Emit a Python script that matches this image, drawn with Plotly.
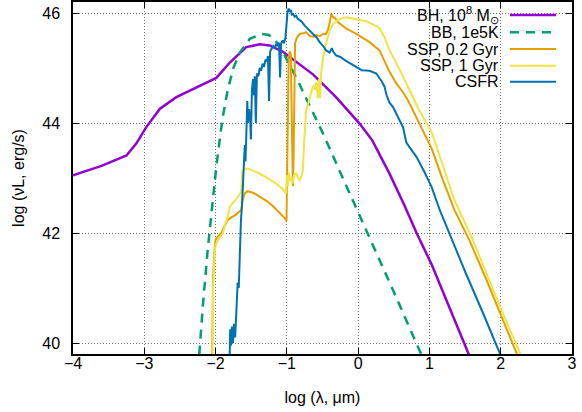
import plotly.graph_objects as go

# ---------------- data ----------------
bh_x = [-4.0, -3.6, -3.25, -3.11, -2.97, -2.78, -2.55, -2.22, -1.99, -1.80, -1.57, -1.38,
        -1.24, -1.06, -0.87, -0.63, -0.31, 0.02, 0.20, 0.44, 0.65, 0.82, 1.03, 1.30, 1.55, 1.62]
bh_y = [43.05, 43.22, 43.41, 43.63, 43.93, 44.26, 44.47, 44.68, 44.82, 45.10, 45.38, 45.43,
        45.41, 45.30, 45.11, 44.88, 44.47, 43.99, 43.68, 43.08, 42.50, 42.00, 41.43, 40.60, 39.80, 39.55]

bb_x = [-2.245, -2.22, -2.18, -2.11, -2.04, -1.99, -1.94, -1.90, -1.83, -1.75, -1.66, -1.52,
        -1.36, -1.25, -1.15, -1.05, -0.96, -0.85, -0.73, -0.60, -0.50, -0.25, 0.0, 0.5, 0.9, 0.95]
bb_y = [39.5, 39.95, 40.65, 41.7, 42.62, 43.2, 43.72, 44.1, 44.6, 45.0, 45.28, 45.53,
        45.62, 45.6, 45.48, 45.28, 45.05, 44.78, 44.45, 44.1, 43.83, 43.1, 42.38, 40.93, 39.75, 39.6]

ssp02_x = [-2.05, -2.045, -2.035, -2.02, -2.0, -1.97, -1.92, -1.83, -1.72, -1.64, -1.62, -1.59,
           -1.55, -1.47, -1.38, -1.28, -1.19, -1.10, -1.03, -1.005, -0.995, -0.985, -0.975, -0.96,
           -0.945, -0.93, -0.915, -0.905, -0.895, -0.885, -0.86, -0.82, -0.77, -0.73, -0.68, -0.63,
           -0.58, -0.54, -0.49, -0.45, -0.42, -0.40, -0.375, -0.35, -0.33, -0.28, -0.17, -0.025,
           0.16, 0.30, 0.37, 0.44, 0.54, 0.63, 0.70, 0.79, 1.03, 1.19, 1.35, 1.56, 1.80, 2.03, 2.22, 2.26]
ssp02_y = [39.6, 41.0, 41.2, 41.6, 41.88, 41.93, 42.0, 42.24, 42.33, 42.42, 42.6, 42.72,
           42.76, 42.73, 42.66, 42.58, 42.48, 42.37, 42.27, 42.22, 43.6, 44.8, 45.2, 45.3,
           45.25, 44.0, 42.85, 43.4, 44.8, 45.45, 45.55, 45.62, 45.63, 45.65, 45.58, 45.57,
           45.6, 45.58, 45.62, 45.62, 45.7, 45.85, 45.98, 45.92, 45.92, 45.83, 45.72, 45.62,
           45.47, 45.32, 45.11, 44.93, 44.71, 44.56, 44.41, 44.17, 43.54, 42.96, 42.42, 41.87, 41.15, 40.42, 39.82, 39.7]

ssp1_x = [-2.045, -2.035, -2.01, -1.99, -1.95, -1.90, -1.83, -1.80, -1.72, -1.64, -1.625, -1.60,
          -1.55, -1.45, -1.34, -1.25, -1.15, -1.06, -1.01, -1.0, -0.985, -0.97, -0.955, -0.94,
          -0.92, -0.90, -0.87, -0.84, -0.82, -0.80, -0.775, -0.76, -0.75, -0.73, -0.71, -0.68,
          -0.66, -0.63, -0.605, -0.585, -0.565, -0.55, -0.535, -0.52, -0.49, -0.45, -0.42, -0.40,
          -0.35, -0.28, -0.17, -0.025, 0.115, 0.255, 0.30, 0.37, 0.44, 0.54, 0.63, 0.72, 0.85,
          1.03, 1.19, 1.35, 1.61, 2.03, 2.27, 2.31]
ssp1_y = [39.6, 41.0, 41.69, 41.81, 41.9, 41.99, 42.3, 42.48, 42.6, 42.75, 43.1, 43.16,
          43.17, 43.12, 43.05, 42.98, 42.9, 42.8, 42.72, 43.05, 42.85, 43.1, 42.95, 43.0,
          42.9, 43.05, 43.08, 43.0, 42.96, 43.0, 43.15, 43.6, 43.9, 44.23, 44.3, 44.47,
          44.55, 44.68, 44.6, 44.75, 44.45, 44.8, 44.45, 44.9, 45.2, 45.44, 45.6, 45.68,
          45.8, 45.88, 45.92, 45.89, 45.85, 45.76, 45.72, 45.56, 45.32, 45.08, 44.83, 44.59, 44.25,
          43.84, 43.2, 42.6, 41.87, 40.54, 39.82, 39.7]

csfr_x = [-1.805, -1.795, -1.785, -1.77, -1.755, -1.74, -1.725, -1.71, -1.69, -1.675, -1.66, -1.645,
          -1.63, -1.62, -1.605, -1.59, -1.58, -1.57, -1.555, -1.545, -1.53, -1.515, -1.505, -1.49,
          -1.475, -1.46, -1.45, -1.435, -1.42, -1.40, -1.38, -1.36, -1.34, -1.32, -1.30, -1.28,
          -1.265, -1.25, -1.235, -1.215, -1.19, -1.17, -1.15, -1.13, -1.11, -1.095, -1.08, -1.06,
          -1.04, -1.02, -1.005, -0.99, -0.975, -0.96, -0.945, -0.93, -0.91, -0.89, -0.87, -0.85,
          -0.82, -0.79, -0.75, -0.70, -0.63, -0.58, -0.54, -0.49, -0.45, -0.40, -0.37, -0.35,
          -0.31, -0.25, -0.17, -0.10, -0.025, 0.05, 0.16, 0.255, 0.33, 0.37, 0.40, 0.44, 0.49,
          0.54, 0.60, 0.63, 0.66, 0.675, 0.72, 0.82, 0.93, 1.03, 1.15, 1.28, 1.50, 1.75, 1.99, 2.03]
csfr_y = [39.6, 40.25, 39.95, 40.3, 40.0, 40.35, 40.1, 40.5, 41.1, 41.0, 41.7, 42.2,
          42.5, 42.75, 43.1, 43.6, 43.3, 43.85, 44.4, 44.0, 44.25, 44.1, 43.7, 44.6,
          44.8, 44.5, 44.85, 44.0, 44.9, 44.85, 45.0, 44.95, 45.08, 45.02, 45.15, 45.12,
          45.22, 44.4, 45.3, 45.35, 45.4, 45.36, 45.44, 45.4, 45.46, 44.83, 45.45, 45.5,
          45.45, 45.55, 45.9, 46.03, 46.08, 46.02, 46.06, 45.97, 45.98, 45.93, 45.95, 45.9,
          45.87, 45.84, 45.77, 45.7, 45.62, 45.55, 45.47, 45.4, 45.32, 45.28, 45.36, 45.3,
          45.23, 45.2, 45.13, 45.08, 45.02, 44.96, 44.95, 44.9, 44.76, 44.66, 44.5, 44.37, 44.29,
          44.17, 44.0, 43.92, 43.7, 43.65, 43.56, 43.38, 43.11, 42.84, 42.4, 41.99, 41.3, 40.55, 39.8, 39.68]

series_names = ["BH, 10<sup>8</sup> M<sub>⊙</sub>", "BB, 1e5K", "SSP, 0.2 Gyr", "SSP, 1 Gyr", "CSFR"]
series_colors = ["#9400D3", "#009E73", "#E69F00", "#F0E442", "#0072B2"]
series_dash = ["solid", "9px,7px", "solid", "solid", "solid"]
series_width = [2.5, 2.5, 2, 2, 2]

x_ticks = [-4, -3, -2, -1, 0, 1, 2, 3]
y_ticks = [40, 42, 44, 46]

FONT = "Liberation Sans, Arial, Helvetica, sans-serif"

fig = go.Figure()
all_x = [bh_x, bb_x, ssp02_x, ssp1_x, csfr_x]
all_y = [bh_y, bb_y, ssp02_y, ssp1_y, csfr_y]
for xs, ys, name, col, dash, w in zip(all_x, all_y, series_names, series_colors, series_dash, series_width):
    fig.add_trace(go.Scatter(x=xs, y=ys, mode="lines", name=name,
                             line=dict(color=col, width=w, dash=dash), showlegend=False))

# ---- layout geometry (pixels) ----
W, H = 582, 412
ML, MR, MT, MB = 73, 10, 2, 58
pw, ph = W - ML - MR, H - MT - MB

def px(xp):
    return (xp - ML) / pw

def py(yp):
    return (H - MB - yp) / ph

shapes = []
annotations = []
# opaque key background (hides grid behind key)
shapes.append(dict(type="rect", xref="paper", yref="paper", x0=px(380), x1=px(567),
                   y0=py(90), y1=py(2.5), fillcolor="white", line=dict(width=0), layer="between"))
row_y = [15, 32.3, 49, 65.7, 81.7]
for i, (name, col, dash, w) in enumerate(zip(series_names, series_colors, series_dash, series_width)):
    yy = py(row_y[i])
    shapes.append(dict(type="line", xref="paper", yref="paper", x0=px(510), x1=px(556),
                       y0=yy, y1=yy, line=dict(color=col, width=w, dash=dash), layer="above"))
    annotations.append(dict(xref="paper", yref="paper", x=px(501), y=yy, text=name,
                            showarrow=False, xanchor="right", yanchor="middle",
                            font=dict(family=FONT, size=16, color="black")))

axis_common = dict(showline=True, linecolor="black", linewidth=1.5, mirror="ticks",
                   ticks="inside", ticklen=6, tickwidth=1, tickcolor="black",
                   showgrid=True, gridcolor="#707070", griddash="1px,2px", gridwidth=1,
                   zeroline=False, automargin=False,
                   tickfont=dict(family=FONT, size=16, color="black"))

fig.update_layout(
    width=W, height=H,
    margin=dict(l=ML, r=MR, t=MT, b=MB),
    paper_bgcolor="white", plot_bgcolor="white",
    font=dict(family=FONT, size=16, color="black"),
    xaxis=dict(range=[-4, 3], tickvals=x_ticks, ticklabelstandoff=-6,
               title=dict(text="log (λ, μm)", font=dict(family=FONT, size=16), standoff=21),
               **axis_common),
    yaxis=dict(range=[39.8, 46.2], tickvals=y_ticks, ticklabelstandoff=8,
               title=dict(text="log (νL, erg/s)", font=dict(family=FONT, size=16), standoff=14),
               **axis_common),
    shapes=shapes,
    annotations=annotations,
)

fig.write_html("out.html", config={"displayModeBar": False},
               post_script="document.body.style.margin='0';document.body.style.padding='0';")
